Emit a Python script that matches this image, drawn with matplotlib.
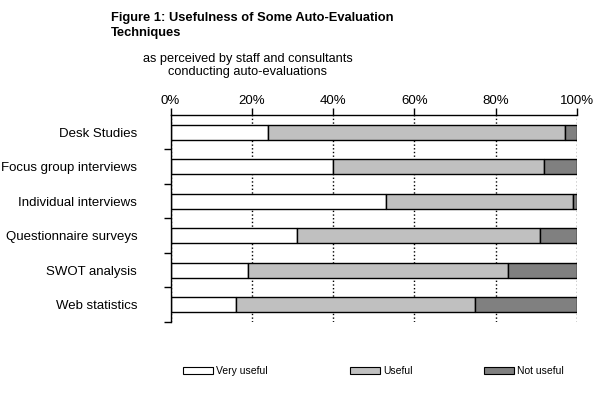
import numpy as np
import matplotlib.pyplot as plt
from matplotlib.patches import Patch
from matplotlib.ticker import FixedLocator, PercentFormatter

plt.rcParams['font.family'] = ['Liberation Sans', 'DejaVu Sans']

# данные (проценты)
techniques = ['Desk Studies', 'Focus group interviews', 'Individual interviews',
              'Questionnaire surveys', 'SWOT analysis', 'Web statistics']
very_useful = [24, 40, 53, 31, 19, 16]
useful = [73, 52, 46, 60, 64, 59]
not_useful = [3, 8, 1, 9, 17, 25]
series_names = ['Very useful', 'Useful', 'Not useful']
colors = ['white', '#C0C0C0', '#808080']

fig = plt.figure(figsize=(5.95, 3.96), dpi=100)
ax = fig.add_axes([0.2866, 0.187, 0.683, 0.523])

y = np.arange(len(techniques))
left = np.zeros(len(techniques))
for vals, col in zip([very_useful, useful, not_useful], colors):
    ax.barh(y, vals, left=left, height=0.43, color=col, edgecolor='black', linewidth=1)
    left += np.array(vals)

ax.set_xlim(0, 100)
ax.set_ylim(len(techniques) - 0.5, -0.5)
ax.set_axisbelow(True)
ax.xaxis.grid(True, linestyle=':', color='black', linewidth=1)

# ось X сверху
ax.xaxis.tick_top()
ax.set_xticks([0, 20, 40, 60, 80, 100])
ax.xaxis.set_major_formatter(PercentFormatter(decimals=0))
ax.tick_params(axis='x', direction='out', length=5, width=1, labelsize=9.5, pad=1)

# подписи категорий и засечки между ними
ax.set_yticks(y)
ax.set_yticklabels(techniques)
ax.tick_params(axis='y', which='major', length=0, labelsize=9.5, pad=24)
ax.yaxis.set_minor_locator(FixedLocator(np.arange(len(techniques)) + 0.5))
ax.tick_params(axis='y', which='minor', direction='out', length=5, width=1)

ax.spines['right'].set_visible(False)
ax.spines['bottom'].set_visible(False)
ax.spines['top'].set_linewidth(1)
ax.spines['left'].set_linewidth(1)

fig.text(111 / 595, 1 - 12 / 396, 'Figure 1: Usefulness of Some Auto-Evaluation\nTechniques',
         fontsize=9.3, fontweight='bold', va='top', ha='left', linespacing=1.3)
fig.text(248 / 595, 1 - 53 / 396, 'as perceived by staff and consultants\nconducting auto-evaluations',
         fontsize=9.2, va='top', ha='center', linespacing=1.15)

# легенда: три отдельных элемента, как в исходнике
legend_x = [183, 350, 484]
for name, col, lx in zip(series_names, colors, legend_x):
    h = Patch(facecolor=col, edgecolor='black', linewidth=0.8)
    fig.legend([h], [name], loc='center left', bbox_to_anchor=(lx / 595, 1 - 371 / 396),
               frameon=False, fontsize=7.5, handlelength=2.9, handleheight=0.65,
               handletextpad=0.3, borderaxespad=0, borderpad=0)

fig.savefig('out.png', dpi=100)
